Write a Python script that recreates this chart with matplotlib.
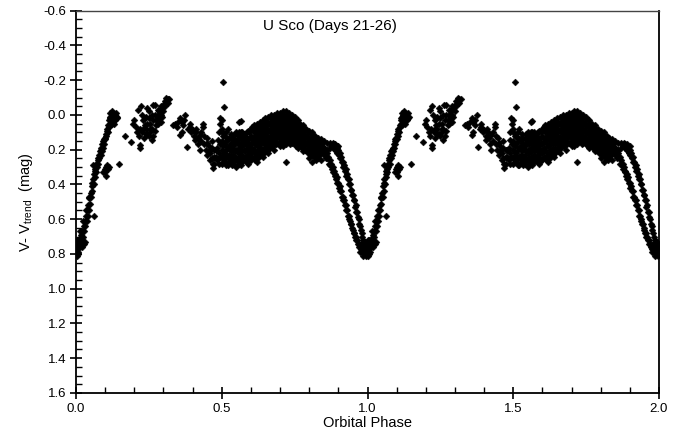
import matplotlib
matplotlib.use('Agg')
import matplotlib.pyplot as plt
from matplotlib.ticker import MultipleLocator, FormatStrFormatter
import numpy as np

plt.rcParams['font.family'] = ['Liberation Sans', 'DejaVu Sans']
plt.rcParams['mathtext.default'] = 'regular'

# U Sco folded light curve, one orbital cycle (phase, V - V_trend in mag)
egress = [(0.000, 0.78), (0.000, 0.74), (0.002, 0.81), (0.004, 0.77), (0.006, 0.75), (0.008, 0.79),
          (0.010, 0.73), (0.012, 0.76), (0.014, 0.71), (0.016, 0.74), (0.018, 0.69), (0.020, 0.72),
          (0.022, 0.67), (0.024, 0.70), (0.026, 0.64), (0.028, 0.67), (0.030, 0.61), (0.032, 0.64),
          (0.034, 0.58), (0.036, 0.61), (0.038, 0.55), (0.040, 0.58), (0.042, 0.52), (0.044, 0.55),
          (0.046, 0.48), (0.048, 0.51), (0.050, 0.45), (0.052, 0.47), (0.054, 0.41), (0.056, 0.44),
          (0.058, 0.37), (0.060, 0.40), (0.062, 0.34), (0.064, 0.36), (0.066, 0.31), (0.068, 0.33),
          (0.070, 0.28), (0.072, 0.30), (0.074, 0.26), (0.076, 0.28), (0.078, 0.23), (0.080, 0.25),
          (0.082, 0.21), (0.084, 0.23), (0.086, 0.19), (0.088, 0.21), (0.090, 0.17), (0.092, 0.19),
          (0.094, 0.15), (0.096, 0.17), (0.098, 0.13), (0.100, 0.14), (0.102, 0.11), (0.104, 0.12),
          (0.106, 0.08), (0.108, 0.10), (0.110, 0.06), (0.112, 0.07), (0.114, 0.03), (0.116, 0.05),
          (0.118, 0.01), (0.120, 0.03), (0.058, 0.29), (0.062, 0.58), (0.020, 0.76), (0.026, 0.74),
          (0.030, 0.73), (0.006, 0.80), (0.003, 0.72),
          (0.005, 0.72), (0.015, 0.67), (0.025, 0.61), (0.035, 0.55), (0.045, 0.47), (0.055, 0.39),
          (0.065, 0.32), (0.075, 0.25), (0.085, 0.20), (0.095, 0.14), (0.105, 0.09), (0.115, 0.02)]

egress_top = [(0.118, -0.01), (0.122, 0.00), (0.124, -0.02), (0.126, 0.01), (0.128, -0.01),
              (0.130, 0.02), (0.132, 0.00), (0.134, 0.03), (0.136, 0.01), (0.138, -0.01),
              (0.140, 0.02), (0.142, 0.01), (0.122, 0.05), (0.126, 0.04), (0.130, 0.05), (0.118, 0.06)]

egress_blob = [(0.094, 0.33), (0.098, 0.31), (0.102, 0.30), (0.106, 0.29), (0.100, 0.33),
               (0.108, 0.31), (0.112, 0.30), (0.104, 0.35), (0.148, 0.28)]

hump = [(0.168, 0.12), (0.189, 0.155), (0.220, 0.175), (0.220, 0.19), (0.213, -0.03), (0.223, -0.05),
        (0.196, 0.05), (0.200, 0.03), (0.205, 0.07), (0.210, 0.10), (0.215, 0.12), (0.225, 0.00),
        (0.230, 0.03), (0.235, 0.06), (0.240, 0.08), (0.245, 0.11), (0.250, 0.02), (0.255, 0.05),
        (0.260, 0.08), (0.265, 0.12), (0.260, 0.145), (0.232, 0.13), (0.240, 0.01), (0.250, -0.02),
        (0.264, -0.06), (0.270, -0.055), (0.275, 0.03), (0.280, 0.00), (0.285, -0.02), (0.290, 0.04),
        (0.295, -0.04), (0.300, -0.06), (0.305, -0.08), (0.310, -0.10), (0.315, -0.09), (0.310, -0.07),
        (0.275, 0.06), (0.285, 0.02), (0.270, 0.09), (0.228, 0.10), (0.218, 0.08), (0.245, -0.04),
        (0.255, 0.10), (0.290, 0.00), (0.300, -0.02),
        (0.235, 0.02), (0.245, 0.05), (0.255, 0.08), (0.265, 0.03), (0.270, 0.00), (0.280, 0.05),
        (0.260, 0.00), (0.240, 0.11), (0.250, 0.12), (0.230, 0.08), (0.295, 0.01), (0.305, -0.05),
        (0.315, -0.07), (0.320, -0.09), (0.280, -0.03), (0.290, -0.05)]

dip = [(0.333, 0.06), (0.340, 0.05), (0.345, 0.07), (0.350, 0.04), (0.357, 0.02), (0.363, 0.04),
       (0.368, 0.06), (0.374, 0.00), (0.363, 0.10), (0.357, 0.115), (0.380, 0.185), (0.385, 0.08),
       (0.391, 0.07), (0.395, 0.10), (0.400, 0.085), (0.405, 0.12), (0.408, 0.145), (0.412, 0.10),
       (0.418, 0.13), (0.425, 0.115), (0.425, 0.20), (0.430, 0.15), (0.436, 0.07), (0.436, 0.05),
       (0.440, 0.17), (0.445, 0.20), (0.449, 0.13), (0.450, 0.23), (0.455, 0.18), (0.460, 0.22),
       (0.460, 0.26), (0.465, 0.15), (0.470, 0.28), (0.470, 0.305), (0.475, 0.24), (0.480, 0.20),
       (0.485, 0.26), (0.488, 0.145), (0.490, 0.10), (0.494, 0.24), (0.494, 0.02), (0.495, 0.05),
       (0.500, 0.03), (0.500, 0.08), (0.505, -0.19), (0.508, -0.045), (0.566, 0.035), (0.566, 0.10),
       (0.440, 0.12), (0.450, 0.16), (0.455, 0.21), (0.465, 0.19), (0.465, 0.25), (0.475, 0.20),
       (0.475, 0.28), (0.480, 0.24), (0.485, 0.19), (0.490, 0.22), (0.490, 0.28), (0.495, 0.17),
       (0.430, 0.10), (0.420, 0.17), (0.410, 0.08), (0.390, 0.05), (0.370, 0.03)]

body = [(0.50, 0.10), (0.50, 0.15), (0.50, 0.20), (0.50, 0.25), (0.50, 0.28),
        (0.51, 0.12), (0.51, 0.17), (0.51, 0.22), (0.51, 0.27),
        (0.52, 0.08), (0.52, 0.14), (0.52, 0.19), (0.52, 0.24), (0.52, 0.29),
        (0.53, 0.11), (0.53, 0.16), (0.53, 0.21), (0.53, 0.26),
        (0.54, 0.13), (0.54, 0.18), (0.54, 0.23), (0.54, 0.28),
        (0.55, 0.10), (0.55, 0.15), (0.55, 0.20), (0.55, 0.25), (0.55, 0.30),
        (0.56, 0.04), (0.56, 0.10), (0.56, 0.14), (0.56, 0.19), (0.56, 0.24), (0.56, 0.28),
        (0.57, 0.10), (0.57, 0.13), (0.57, 0.18), (0.57, 0.23), (0.57, 0.27),
        (0.58, 0.12), (0.58, 0.16), (0.58, 0.21), (0.58, 0.26),
        (0.59, 0.09), (0.59, 0.14), (0.59, 0.19), (0.59, 0.24), (0.59, 0.28),
        (0.60, 0.08), (0.60, 0.12), (0.60, 0.17), (0.60, 0.22), (0.60, 0.26),
        (0.61, 0.06), (0.61, 0.10), (0.61, 0.15), (0.61, 0.20), (0.61, 0.25),
        (0.62, 0.05), (0.62, 0.09), (0.62, 0.13), (0.62, 0.18), (0.62, 0.23), (0.62, 0.27),
        (0.63, 0.04), (0.63, 0.08), (0.63, 0.12), (0.63, 0.17), (0.63, 0.22),
        (0.64, 0.03), (0.64, 0.07), (0.64, 0.11), (0.64, 0.15), (0.64, 0.20), (0.64, 0.24),
        (0.65, 0.02), (0.65, 0.06), (0.65, 0.10), (0.65, 0.14), (0.65, 0.19),
        (0.66, 0.01), (0.66, 0.05), (0.66, 0.09), (0.66, 0.13), (0.66, 0.18), (0.66, 0.22),
        (0.67, 0.00), (0.67, 0.04), (0.67, 0.08), (0.67, 0.12), (0.67, 0.17),
        (0.68, 0.00), (0.68, 0.03), (0.68, 0.07), (0.68, 0.11), (0.68, 0.15), (0.68, 0.20),
        (0.69, -0.01), (0.69, 0.03), (0.69, 0.07), (0.69, 0.11), (0.69, 0.16),
        (0.70, -0.01), (0.70, 0.02), (0.70, 0.06), (0.70, 0.10), (0.70, 0.14), (0.70, 0.18)]

body_fill = [(0.505, 0.12), (0.505, 0.18), (0.505, 0.23), (0.505, 0.27),
             (0.515, 0.10), (0.515, 0.15), (0.515, 0.20), (0.515, 0.25), (0.515, 0.29),
             (0.525, 0.13), (0.525, 0.18), (0.525, 0.23), (0.525, 0.27),
             (0.535, 0.14), (0.535, 0.19), (0.535, 0.24), (0.535, 0.29),
             (0.545, 0.11), (0.545, 0.16), (0.545, 0.21), (0.545, 0.26),
             (0.555, 0.12), (0.555, 0.17), (0.555, 0.22), (0.555, 0.27),
             (0.565, 0.12), (0.565, 0.16), (0.565, 0.21), (0.565, 0.26), (0.565, 0.29),
             (0.575, 0.11), (0.575, 0.15), (0.575, 0.20), (0.575, 0.25),
             (0.585, 0.10), (0.585, 0.14), (0.585, 0.18), (0.585, 0.23), (0.585, 0.27),
             (0.595, 0.10), (0.595, 0.16), (0.595, 0.21), (0.595, 0.26),
             (0.605, 0.07), (0.605, 0.14), (0.605, 0.19), (0.605, 0.24),
             (0.615, 0.08), (0.615, 0.12), (0.615, 0.17), (0.615, 0.22), (0.615, 0.26),
             (0.625, 0.07), (0.625, 0.11), (0.625, 0.15), (0.625, 0.20), (0.625, 0.25),
             (0.635, 0.06), (0.635, 0.10), (0.635, 0.14), (0.635, 0.19), (0.635, 0.23),
             (0.645, 0.05), (0.645, 0.09), (0.645, 0.13), (0.645, 0.17), (0.645, 0.22),
             (0.655, 0.04), (0.655, 0.08), (0.655, 0.12), (0.655, 0.16), (0.655, 0.21),
             (0.665, 0.02), (0.665, 0.06), (0.665, 0.10), (0.665, 0.15), (0.665, 0.19),
             (0.675, 0.02), (0.675, 0.06), (0.675, 0.10), (0.675, 0.14), (0.675, 0.18),
             (0.685, 0.01), (0.685, 0.05), (0.685, 0.09), (0.685, 0.13), (0.685, 0.17),
             (0.695, 0.00), (0.695, 0.04), (0.695, 0.08), (0.695, 0.12), (0.695, 0.16)]

plateau = [(0.71, -0.02), (0.71, 0.02), (0.71, 0.06), (0.71, 0.10), (0.71, 0.14), (0.71, 0.18),
           (0.72, -0.02), (0.72, 0.01), (0.72, 0.05), (0.72, 0.09), (0.72, 0.13), (0.72, 0.17), (0.72, 0.27),
           (0.73, -0.01), (0.73, 0.03), (0.73, 0.07), (0.73, 0.11), (0.73, 0.15),
           (0.74, 0.00), (0.74, 0.04), (0.74, 0.08), (0.74, 0.12), (0.74, 0.16),
           (0.75, 0.01), (0.75, 0.05), (0.75, 0.09), (0.75, 0.13), (0.75, 0.17),
           (0.76, 0.03), (0.76, 0.07), (0.76, 0.11), (0.76, 0.15), (0.76, 0.19),
           (0.77, 0.05), (0.77, 0.09), (0.77, 0.13), (0.77, 0.17),
           (0.78, 0.06), (0.78, 0.10), (0.78, 0.14), (0.78, 0.18), (0.78, 0.21),
           (0.79, 0.08), (0.79, 0.12), (0.79, 0.16), (0.79, 0.20),
           (0.80, 0.09), (0.80, 0.13), (0.80, 0.17), (0.80, 0.21), (0.80, 0.25),
           (0.81, 0.10), (0.81, 0.14), (0.81, 0.18), (0.81, 0.22), (0.81, 0.27),
           (0.82, 0.12), (0.82, 0.16), (0.82, 0.20), (0.82, 0.24),
           (0.83, 0.13), (0.83, 0.17), (0.83, 0.21), (0.83, 0.25),
           (0.84, 0.14), (0.84, 0.18), (0.84, 0.22), (0.84, 0.26),
           (0.85, 0.15), (0.85, 0.19), (0.85, 0.23), (0.86, 0.16), (0.86, 0.20),
           (0.87, 0.16), (0.87, 0.19), (0.88, 0.17), (0.89, 0.17), (0.89, 0.20),
           (0.90, 0.18), (0.90, 0.22)]

plateau_fill = [(0.705, 0.00), (0.705, 0.04), (0.705, 0.08), (0.705, 0.12), (0.705, 0.16),
                (0.715, 0.00), (0.715, 0.04), (0.715, 0.08), (0.715, 0.12), (0.715, 0.16),
                (0.725, 0.01), (0.725, 0.03), (0.725, 0.07), (0.725, 0.11), (0.725, 0.15),
                (0.735, 0.01), (0.735, 0.05), (0.735, 0.09), (0.735, 0.13), (0.735, 0.17),
                (0.745, 0.02), (0.745, 0.06), (0.745, 0.10), (0.745, 0.14),
                (0.755, 0.03), (0.755, 0.07), (0.755, 0.11), (0.755, 0.15), (0.755, 0.18),
                (0.765, 0.05), (0.765, 0.09), (0.765, 0.13), (0.765, 0.17),
                (0.775, 0.07), (0.775, 0.11), (0.775, 0.15), (0.775, 0.19),
                (0.785, 0.08), (0.785, 0.12), (0.785, 0.16), (0.785, 0.20),
                (0.795, 0.10), (0.795, 0.14), (0.795, 0.18), (0.795, 0.22),
                (0.805, 0.11), (0.805, 0.15), (0.805, 0.19), (0.805, 0.23),
                (0.815, 0.12), (0.815, 0.16), (0.815, 0.20), (0.815, 0.24),
                (0.825, 0.14), (0.825, 0.18), (0.825, 0.22), (0.825, 0.26),
                (0.835, 0.15), (0.835, 0.19), (0.835, 0.23),
                (0.845, 0.16), (0.845, 0.20), (0.875, 0.18), (0.885, 0.19), (0.895, 0.18)]

ingress_inner = [(0.850, 0.19), (0.855, 0.21), (0.860, 0.22), (0.865, 0.24), (0.870, 0.26),
                 (0.875, 0.28), (0.880, 0.30), (0.885, 0.32), (0.890, 0.34), (0.895, 0.36),
                 (0.900, 0.39), (0.905, 0.41), (0.910, 0.44), (0.915, 0.47), (0.920, 0.49),
                 (0.925, 0.52), (0.930, 0.55), (0.935, 0.58), (0.940, 0.61), (0.945, 0.63),
                 (0.950, 0.66), (0.955, 0.68), (0.960, 0.70), (0.965, 0.72), (0.970, 0.74),
                 (0.975, 0.75), (0.980, 0.77),
                 (0.852, 0.22), (0.862, 0.25), (0.872, 0.29), (0.882, 0.33), (0.892, 0.37),
                 (0.902, 0.42), (0.912, 0.47), (0.922, 0.52), (0.932, 0.58), (0.942, 0.63),
                 (0.952, 0.68), (0.962, 0.72), (0.972, 0.76),
                 (0.857, 0.25), (0.867, 0.28), (0.877, 0.31), (0.887, 0.35), (0.897, 0.39),
                 (0.907, 0.44), (0.917, 0.49), (0.927, 0.55), (0.937, 0.60), (0.947, 0.65),
                 (0.957, 0.70), (0.967, 0.74), (0.977, 0.77)]

ingress_outer = [(0.880, 0.16), (0.885, 0.17), (0.890, 0.18), (0.895, 0.19), (0.900, 0.20),
                 (0.905, 0.22), (0.910, 0.24), (0.915, 0.27), (0.920, 0.29), (0.925, 0.31),
                 (0.930, 0.34), (0.935, 0.37), (0.940, 0.40), (0.945, 0.43), (0.950, 0.46),
                 (0.955, 0.49), (0.960, 0.52), (0.965, 0.56), (0.970, 0.60), (0.975, 0.64),
                 (0.980, 0.68), (0.985, 0.72), (0.990, 0.75), (0.995, 0.77), (1.000, 0.79),
                 (0.892, 0.20), (0.902, 0.23), (0.912, 0.27), (0.922, 0.32), (0.932, 0.37),
                 (0.942, 0.43), (0.952, 0.49), (0.962, 0.56), (0.972, 0.63), (0.982, 0.70),
                 (0.887, 0.19), (0.897, 0.22), (0.907, 0.25), (0.917, 0.30), (0.927, 0.35),
                 (0.937, 0.40), (0.947, 0.46), (0.957, 0.53), (0.967, 0.59), (0.977, 0.66),
                 (0.987, 0.74)]

eclipse_min = [(0.985, 0.78), (0.990, 0.80), (0.993, 0.77), (0.996, 0.81), (0.998, 0.79),
               (0.988, 0.76), (0.982, 0.79), (0.975, 0.79), (0.978, 0.74), (1.000, 0.76),
               (0.992, 0.73), (0.996, 0.75), (0.986, 0.81)]

cycle = np.array(egress + egress_top + egress_blob + hump + dip + body + body_fill + plateau
                 + plateau_fill + ingress_inner + ingress_outer + eclipse_min)
phase = cycle[:, 0]
mag = cycle[:, 1]

fig = plt.figure(figsize=(6.85, 4.45), dpi=100)
ax = fig.add_axes([0.111, 0.117, 0.851, 0.859])

# same cycle plotted twice, phases 0-1 and 1-2
for shift in (0.0, 1.0):
    ax.plot(phase + shift, mag, ls='none', marker='D', ms=3.5, mew=0.3, color='black')

ax.set_xlim(0.0, 2.0)
ax.set_ylim(1.6, -0.6)
ax.xaxis.set_major_locator(MultipleLocator(0.5))
ax.xaxis.set_minor_locator(MultipleLocator(0.1))
ax.yaxis.set_major_locator(MultipleLocator(0.2))
ax.yaxis.set_minor_locator(MultipleLocator(0.05))
ax.xaxis.set_major_formatter(FormatStrFormatter('%.1f'))
ax.yaxis.set_major_formatter(FormatStrFormatter('%.1f'))
ax.tick_params(which='major', direction='inout', length=8, width=1.2, labelsize=9.5, pad=3)
ax.tick_params(which='minor', direction='in', length=4, width=1.0)
ax.tick_params(top=False, right=False, which='both')
for side in ['left', 'bottom', 'right']:
    ax.spines[side].set_linewidth(1.3)
ax.spines['top'].set_linewidth(1.0)
ax.spines['top'].set_color('#444444')

ax.set_xlabel('Orbital Phase', fontsize=10.5, labelpad=1)
ax.set_ylabel('V- V$_{trend}$  (mag)', fontsize=10.5, labelpad=6)
ax.text(0.87, -0.51, 'U Sco (Days 21-26)', fontsize=11, ha='center', va='center')

fig.savefig('out.png', dpi=100)
